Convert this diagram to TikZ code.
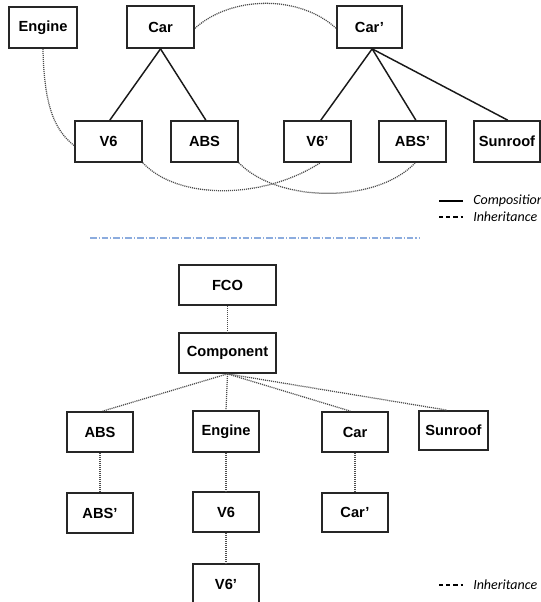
\documentclass[tikz,border=0pt]{standalone}
\usepackage{fontspec}
\newfontfamily\boxfont{Liberation Sans}
\newfontfamily\legfont{Carlito}
\usetikzlibrary{calc}
\tikzset{
  box/.style={draw=black!85, line width=1.3pt, inner sep=0pt, fill=white,
    font=\boxfont\bfseries\fontsize{11}{13}\selectfont},
  comp/.style={draw=black!90, line width=1.1pt},
  inh/.style={draw=black!70, line width=0.95pt, dash pattern=on 0.8pt off 0.7pt},
  legtext/.style={anchor=west, inner sep=0pt, font=\legfont\itshape\fontsize{10.5}{12}\selectfont},
  legsolid/.style={draw=black, line width=0.9pt},
  legdash/.style={draw=black, line width=0.9pt, dash pattern=on 3.2pt off 2.2pt},
  sep/.style={draw={rgb,255:red,140;green,172;blue,222}, line width=0.8pt,
    dash pattern=on 5pt off 1.5pt on 0.8pt off 1.5pt}
}
\newcommand\mkbox[6]{\node[box, minimum width={(#4-#2)*0.75pt}, minimum height={(#5-#3)*0.75pt}] (#1) at ({(#2+#4)/2},{(#3+#5)/2}) {#6};}
\begin{document}
\begin{tikzpicture}[x=0.75pt,y=-0.75pt]
\useasboundingbox (0,0) rectangle (541,602);
% ---------- top diagram ----------
\mkbox{engine}{9}{7}{77}{48}{Engine}
\mkbox{car}{127}{6}{194}{48}{Car}
\mkbox{carp}{337}{6}{402}{48}{Car’}
\mkbox{v6}{75}{121}{142}{162}{V6}
\mkbox{abs}{171}{121}{238}{162}{ABS}
\mkbox{v6p}{284}{121}{351}{162}{V6’}
\mkbox{absp}{379}{121}{446}{162}{ABS’}
\mkbox{sunroof}{474}{121}{540}{162}{Sunroof}
% composition
\draw[comp] (car.south) -- ([xshift=1pt]v6.north);
\draw[comp] (car.south) -- ([xshift=1pt]abs.north);
\draw[comp] ([xshift=2pt]carp.south) -- ([xshift=2.5pt]v6p.north);
\draw[comp] ([xshift=2pt]carp.south) -- ([xshift=2.5pt]absp.north);
\draw[comp] ([xshift=2pt]carp.south) -- ([xshift=0.5pt]sunroof.north);
% inheritance curves
\draw[inh] (engine.south) .. controls ++(1,60) and ++(-18,-14) .. ([yshift=-3pt]v6.west);
\draw[inh] ([yshift=-1pt]car.east) .. controls (232,-5) and (300,-5) .. ([yshift=-1pt]carp.west);
\draw[inh] (v6.south east) .. controls (178,200) and (262,200) .. ([xshift=2pt]v6p.south);
\draw[inh] (abs.south east) .. controls (278,203) and (376,204) .. ([xshift=2pt]absp.south);
% legend
\coordinate (la1) at (439,201); \coordinate (lb1) at (463,201);
\draw[legsolid] (la1) -- (lb1);
\node[legtext] (lt1) at (473,201) {Composition};
\coordinate (la2) at (439,217); \coordinate (lb2) at (463,217);
\draw[legdash] (la2) -- (lb2);
\node[legtext] (lt2) at (473,217) {Inheritance};
% separator
\coordinate (s1) at (90,238); \coordinate (s2) at (420,238);
\draw[sep] (s1) -- (s2);
% ---------- bottom diagram ----------
\mkbox{fco}{179}{265}{276}{305}{FCO}
\mkbox{compo}{179}{333}{276}{373}{Component}
\mkbox{abst}{67}{412}{133}{452}{ABS}
\mkbox{engt}{193}{411}{259}{452}{Engine}
\mkbox{cart}{322}{412}{388}{452}{Car}
\mkbox{sunt}{419}{411}{488}{450}{Sunroof}
\mkbox{abspt}{67}{493}{133}{533}{ABS’}
\mkbox{v6t}{193}{492}{259}{532}{V6}
\mkbox{carpt}{322}{493}{388}{532}{Car’}
\mkbox{v6pt}{193}{564}{259}{625}{}
\node[box, draw=none, fill=none] (v6plab) at (226,584) {V6’};
\draw[inh] (fco.south) -- (compo.north);
\draw[inh] (compo.south) -- ([xshift=2pt]abst.north);
\draw[inh] (compo.south) -- (engt.north);
\draw[inh] (compo.south) -- ([xshift=-3.5pt]cart.north);
\draw[inh] (compo.south) -- ([xshift=-5pt]sunt.north);
\draw[inh] (abst.south) -- (abspt.north);
\draw[inh] (engt.south) -- (v6t.north);
\draw[inh] (v6t.south) -- (v6pt.north);
\draw[inh] (cart.south) -- (carpt.north);
% legend
\coordinate (la3) at (439,585); \coordinate (lb3) at (463,585);
\draw[legdash] (la3) -- (lb3);
\node[legtext] (lt3) at (473,585) {Inheritance};
\end{tikzpicture}
\end{document}
